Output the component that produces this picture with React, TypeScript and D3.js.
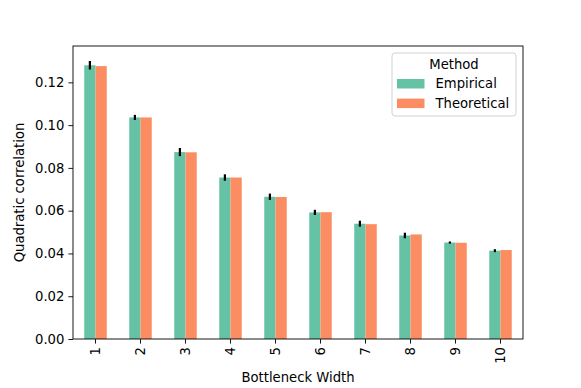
import React, { useEffect, useRef } from 'react';
import * as d3 from 'd3';

const widths = ['1', '2', '3', '4', '5', '6', '7', '8', '9', '10'];
const empirical = [0.128, 0.1036, 0.0874, 0.0755, 0.0665, 0.0592, 0.0539, 0.0484, 0.0451, 0.0413];
const empiricalErr = [0.002, 0.0012, 0.0019, 0.0015, 0.0015, 0.0012, 0.0014, 0.0013, 0.0005, 0.0007];
const theoretical = [0.1276, 0.1036, 0.0873, 0.0755, 0.0664, 0.0593, 0.0537, 0.0489, 0.045, 0.0416];
const yTicks = [0, 0.02, 0.04, 0.06, 0.08, 0.1, 0.12];
const seriesNames = ['Empirical', 'Theoretical'];
const colors = ['#66c2a5', '#fc8d62'];

const FONT = 'DejaVu Sans, sans-serif';
const FS = 13.2;

const App = () => {
  const ref = useRef<SVGSVGElement>(null);

  useEffect(() => {
    const W = 581;
    const H = 388;
    const margin = { top: 46, right: 58, bottom: 49, left: 73 };
    const width = W - margin.left - margin.right;
    const height = H - margin.top - margin.bottom;

    const svg = d3.select(ref.current);
    svg.selectAll('*').remove();

    const g = svg.append('g').attr('transform', `translate(${margin.left},${margin.top})`);

    const x = d3.scaleBand().domain(widths).range([0, width]).paddingInner(0.5).paddingOuter(0.25);
    const inner = d3.scaleBand().domain(seriesNames).range([0, x.bandwidth()]);
    const y = d3.scaleLinear().domain([0, 0.137]).range([height, 0]);

    const series = [empirical, theoretical];
    series.forEach((vals, si) => {
      g.append('g')
        .selectAll('rect')
        .data(vals)
        .enter()
        .append('rect')
        .attr('x', (d, i) => (x(widths[i]) as number) + (inner(seriesNames[si]) as number))
        .attr('y', (d) => y(d))
        .attr('width', inner.bandwidth())
        .attr('height', (d) => height - y(d))
        .attr('fill', colors[si]);
    });

    // error bars on empirical
    g.append('g')
      .selectAll('line')
      .data(empirical)
      .enter()
      .append('line')
      .attr('x1', (d, i) => (x(widths[i]) as number) + (inner('Empirical') as number) + inner.bandwidth() / 2)
      .attr('x2', (d, i) => (x(widths[i]) as number) + (inner('Empirical') as number) + inner.bandwidth() / 2)
      .attr('y1', (d, i) => y(d - empiricalErr[i]))
      .attr('y2', (d, i) => y(d + empiricalErr[i]))
      .attr('stroke', '#000')
      .attr('stroke-width', 2.2);

    // y axis
    const yAxis = g.append('g').call(d3.axisLeft(y).tickValues(yTicks).tickFormat(d3.format('.2f')).tickSize(4.6).tickPadding(4));
    yAxis.select('.domain').remove();
    yAxis.selectAll('text').attr('font-family', FONT).attr('font-size', FS).attr('fill', '#000');
    yAxis.selectAll('line').attr('stroke', '#000').attr('stroke-width', 0.9);

    // x axis
    const xAxis = g.append('g').attr('transform', `translate(0,${height})`).call(d3.axisBottom(x).tickSize(4.6).tickPadding(4));
    xAxis.select('.domain').remove();
    xAxis.selectAll('line').attr('stroke', '#000').attr('stroke-width', 0.9);
    xAxis.selectAll('text')
      .attr('font-family', FONT)
      .attr('font-size', FS)
      .attr('fill', '#000')
      .attr('transform', 'rotate(-90)')
      .attr('x', -8)
      .attr('y', 0)
      .attr('dy', '0.35em')
      .attr('text-anchor', 'end');

    // frame
    g.append('rect')
      .attr('width', width)
      .attr('height', height)
      .attr('fill', 'none')
      .attr('stroke', '#000')
      .attr('stroke-width', 0.9);

    // axis labels
    svg.append('text')
      .attr('x', margin.left + width / 2)
      .attr('y', 382)
      .attr('text-anchor', 'middle')
      .attr('font-family', FONT)
      .attr('font-size', FS)
      .text('Bottleneck Width');

    svg.append('text')
      .attr('transform', `translate(24,${margin.top + height / 2}) rotate(-90)`)
      .attr('text-anchor', 'middle')
      .attr('font-family', FONT)
      .attr('font-size', FS)
      .text('Quadratic correlation');

    // legend
    const lg = svg.append('g').attr('transform', 'translate(392,53)');
    lg.append('rect')
      .attr('width', 124)
      .attr('height', 63)
      .attr('rx', 3)
      .attr('fill', '#fff')
      .attr('fill-opacity', 0.8)
      .attr('stroke', '#ccc')
      .attr('stroke-width', 0.9);
    lg.append('text')
      .attr('x', 62)
      .attr('y', 15.8)
      .attr('text-anchor', 'middle')
      .attr('font-family', FONT)
      .attr('font-size', FS)
      .text('Method');
    seriesNames.forEach((name, i) => {
      lg.append('rect')
        .attr('x', 5)
        .attr('y', 26 + i * 19.6)
        .attr('width', 27.5)
        .attr('height', 9.5)
        .attr('fill', colors[i]);
      lg.append('text')
        .attr('x', 43.5)
        .attr('y', 35.3 + i * 19.6)
        .attr('font-family', FONT)
        .attr('font-size', FS)
        .text(name);
    });
  }, []);

  return (
    <svg
      ref={ref}
      width={581}
      height={388}
      style={{ position: 'absolute', left: 0, top: 0, display: 'block' }}
    ></svg>
  );
};

export default App;
